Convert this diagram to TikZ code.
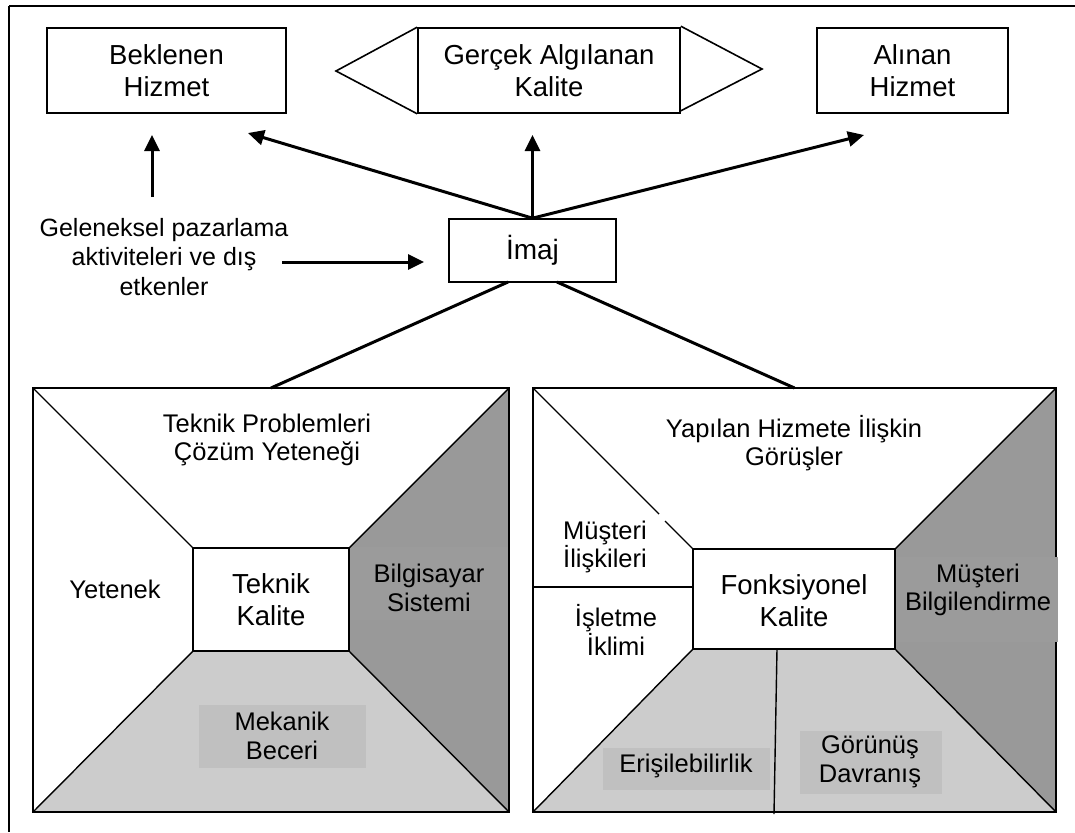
\documentclass[tikz,border=0pt]{standalone}
\usepackage{fontspec}
\setmainfont{Liberation Sans}
\usetikzlibrary{arrows.meta,calc}
\definecolor{darkpanel}{HTML}{999999}
\definecolor{darkbox}{HTML}{9B9B9B}
\definecolor{lightpanel}{HTML}{CCCCCC}
\definecolor{lightbox}{HTML}{C0C0C0}
\begin{document}
\begin{tikzpicture}[x=1pt,y=-1pt,
  topbox/.style={draw,line width=1.6pt,inner sep=0pt,align=center,
    font=\fontsize{27.5}{32}\selectfont},
  lab/.style={inner sep=0pt,align=center,font=\fontsize{25.5}{28.5}\selectfont},
  biglab/.style={inner sep=0pt,align=center,font=\fontsize{27.5}{32}\selectfont},
  arr/.style={line width=3pt,-{Triangle[length=16pt,width=15pt]}},
  link/.style={line width=3pt},
  border/.style={line width=2pt},
  seam/.style={line width=1.4pt},
  framel/.style={line width=1.6pt}]
\useasboundingbox (0,0) rectangle (1075,832);

% page frame (top and left edges)
\draw[framel] (9,6) -- (1075,6);
\draw[framel] (9,6) -- (9,832);

% top row
\node[topbox,minimum width=239pt,minimum height=85pt] (bek) at (166.5,70.5) {Beklenen\\Hizmet};
\node[topbox,minimum width=262pt,minimum height=85pt] (ger) at (549,70.5) {Gerçek Algılanan\\Kalite};
\node[topbox,minimum width=191pt,minimum height=85pt] (ali) at (912.5,70.5) {Alınan\\Hizmet};
\coordinate (gerL) at (336,71);
\coordinate (gerR) at (762,69);
\draw[line width=1.6pt,line join=miter] (ger.north west) -- (gerL) -- (ger.south west);
\draw[line width=1.6pt,line join=miter] ($(ger.north east)+(0,-1)$) -- (gerR) -- ($(ger.south east)+(0,-3)$);

% image box and its influences
\node[topbox,minimum width=167pt,minimum height=63pt,font=\fontsize{28}{32}\selectfont] (imaj) at (532.5,250.5) {İmaj};
\node[lab,font=\fontsize{25}{29.5}\selectfont] (gel) at (164,257) {Geleneksel pazarlama\\aktiviteleri ve dış\\etkenler};

\coordinate (tipBek) at (248,133);
\coordinate (tipGer) at (532.5,135);
\coordinate (tipAli) at (864,135);
\draw[arr] (imaj.north) -- (tipBek);
\draw[arr] (imaj.north) -- (tipGer);
\draw[arr] (imaj.north) -- (tipAli);

\coordinate (gelUp0) at (152,197);
\coordinate (gelUp1) at (152,135);
\draw[arr] (gelUp0) -- (gelUp1);
\coordinate (gelR0) at (282,262);
\coordinate (gelR1) at (424,262);
\draw[arr] (gelR0) -- (gelR1);

% left panel: technical quality
\coordinate (LA) at (33,388);  \coordinate (LB) at (509,388);
\coordinate (LC) at (509,812); \coordinate (LD) at (33,812);
\coordinate (La) at (193,548); \coordinate (Lb) at (349,548);
\coordinate (Lc) at (349,651); \coordinate (Ld) at (193,651);
\fill[darkpanel] (LB) -- (Lb) -- (Lc) -- (LC) -- cycle;
\fill[lightpanel] (Ld) -- (Lc) -- (LC) -- (LD) -- cycle;
\fill[darkbox] (349,547) rectangle (509,620);
\fill[lightbox] (199,705) rectangle (366,768);
\draw[seam] (LA) -- (La) (LB) -- (Lb) (LC) -- (Lc) (LD) -- (Ld);
\draw[border] (LA) rectangle (LC);
\draw[line width=1.6pt] (La) rectangle (Lc);

\node[lab] (ltop) at (267,440) {Teknik Problemleri\\Çözüm Yeteneği};
\node[lab] (lleft) at (115,589) {Yetenek};
\node[biglab] (lcen) at (271,600) {Teknik\\Kalite};
\node[lab] (lright) at (429,588) {Bilgisayar\\Sistemi};
\node[lab] (lbot) at (282,736) {Mekanik\\Beceri};

% right panel: functional quality
\coordinate (RA) at (533,388);  \coordinate (RB) at (1056,388);
\coordinate (RC) at (1056,812); \coordinate (RD) at (533,812);
\coordinate (Ra) at (693,549);  \coordinate (Rb) at (895,549);
\coordinate (Rc) at (895,649);  \coordinate (Rd) at (693,649);
\fill[darkpanel] (RB) -- (Rb) -- (Rc) -- (RC) -- cycle;
\fill[lightpanel] (Rd) -- (Rc) -- (RC) -- (RD) -- cycle;
\fill[lightbox] (603,748) rectangle (770,790);
\fill[lightbox] (800,731) rectangle (942,794);
\coordinate (Rgap0) at (659,514);
\coordinate (Rgap1) at (665,521);
\draw[seam] (RA) -- (Rgap0) (Rgap1) -- (Ra) (RB) -- (Rb) (RC) -- (Rc) (RD) -- (Rd);
\coordinate (Rmid) at (533,587);
\coordinate (Rmidi) at (693,587);
\draw[seam] (Rmid) -- (Rmidi);
\coordinate (Rv0) at (777,649);
\coordinate (Rv1) at (774,814);
\draw[seam] (Rv0) -- (Rv1);
\draw[border] (RA) rectangle (RC);
\draw[line width=1.6pt] (Ra) rectangle (Rc);
\fill[darkbox] (896,557) rectangle (1057.5,642);

\node[lab] (rtop) at (794,443) {Yapılan Hizmete İlişkin\\Görüşler};
\node[lab] (rl1) at (605,547) {Müşteri\\İlişkileri};
\node[lab] (rl2) at (616,630) {İşletme\\İklimi};
\node[biglab] (rcen) at (794,601) {Fonksiyonel\\Kalite};
\node[lab] (rright) at (978,590) {Müşteri\\Bilgilendirme};
\node[lab] (rb1) at (686,766) {Erişilebilirlik};
\node[lab] (rb2) at (870,762) {Görünüş\\Davranış};

% image box feeds both panels
\coordinate (imL) at (508,282);
\coordinate (imR) at (557,282);
\coordinate (lpTop) at (271,388);
\coordinate (rpTop) at (794.5,388);
\draw[link] (imL) -- (lpTop);
\draw[link] (imR) -- (rpTop);
\end{tikzpicture}
\end{document}
